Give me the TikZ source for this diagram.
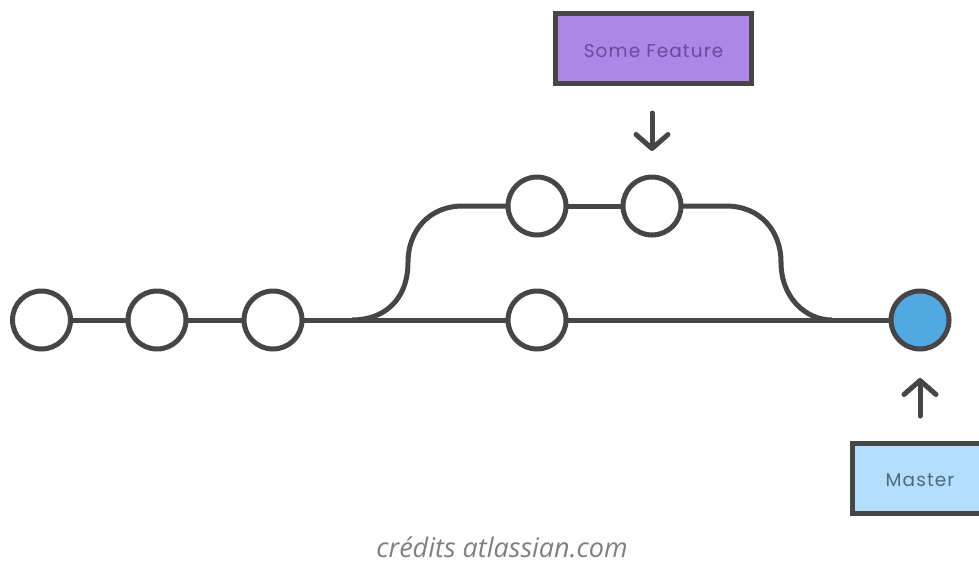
\documentclass[tikz,border=0pt]{standalone}
\usepackage{fontspec}
\newfontfamily\labelfont[LetterSpace=6]{Poppins}
\newfontfamily\creditfont{Open Sans}
\usetikzlibrary{arrows.meta}
\definecolor{ink}{HTML}{464646}
\definecolor{featfill}{HTML}{AE87E6}
\definecolor{featink}{HTML}{6A4A9C}
\definecolor{mastfill}{HTML}{B3DFFD}
\definecolor{mastink}{HTML}{4A6A80}
\definecolor{headfill}{HTML}{52A9E2}
\tikzset{
  commit/.style={circle,draw=ink,line width=5pt,fill=white,minimum size=58pt,inner sep=0pt,outer sep=0pt},
  headcommit/.style={commit,fill=headfill},
  line/.style={draw=ink,line width=5pt},
  pointer/.style={draw=ink,line width=5pt,line cap=round,-{Straight Barb[length=14pt,width=32pt,line width=5pt,round]}},
  tag/.style={rectangle,draw=ink,line width=5pt,minimum height=70pt,inner sep=0pt,outer sep=0pt,font=\labelfont\fontsize{18.5}{22}\selectfont},
}
\begin{document}
\begin{tikzpicture}[x=1pt,y=-1pt]
\useasboundingbox[clip] (0,0) rectangle (979,560);
\coordinate (forkA) at (352,320);
\coordinate (forkB) at (832,320);
\path[line] (forkA) .. controls (384,320) and (408,300) .. (408,262)
  .. controls (408,232) and (428,206) .. (463,206) -- (537,206);
\path[line] (652,206) -- (726,206)
  .. controls (761,206) and (781,232) .. (781,262)
  .. controls (781,298) and (806,320) .. (forkB);
\node[commit] (c1) at (41.5,320) {};
\node[commit] (c2) at (157,320) {};
\node[commit] (c3) at (273,320) {};
\node[commit] (m1) at (537,320) {};
\node[commit] (f1) at (537,206) {};
\node[commit] (f2) at (652,206) {};
\node[headcommit] (head) at (920,320) {};
\path[line] (c1) -- (c2);
\path[line] (c2) -- (c3);
\path[line] (c3) -- (m1);
\path[line] (m1) -- (head);
\path[line] (f1) -- (f2);
\node[tag,fill=featfill,text=featink,minimum width=196pt] (feature) at (653.5,48.5) {\raisebox{-9pt}[0pt][0pt]{Some Feature}};
\node[tag,fill=mastfill,text=mastink,minimum width=136pt] (master) at (920,478) {\raisebox{-8.5pt}[0pt][0pt]{Master}};
\coordinate (fs) at (652,113);
\coordinate (ms) at (920,416);
\path[pointer] (fs) -- (f2.north |- 0,151);
\path[pointer] (ms) -- (head.south |- 0,378);
\node[anchor=base,font=\creditfont\itshape\fontsize{27}{30}\selectfont,text=black!50,inner sep=0pt] (credit) at (502,557) {crédits atlassian.com};
\end{tikzpicture}
\end{document}
